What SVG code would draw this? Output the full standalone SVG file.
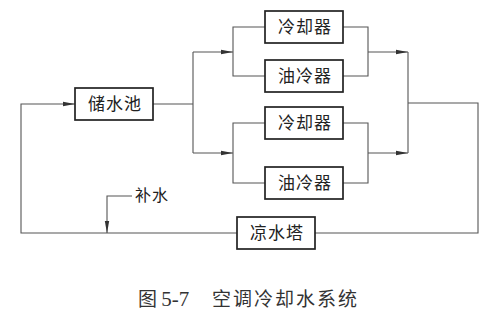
<svg xmlns="http://www.w3.org/2000/svg" width="500" height="320" viewBox="0 0 500 320">
<style>
.box{fill:#fff;stroke:#222;stroke-width:1.7}
.lbl{font-family:"Noto Sans CJK SC","Noto Sans",sans-serif;font-size:17px;fill:#222;text-anchor:middle;letter-spacing:1px}
.ln{fill:none;stroke:#555;stroke-width:1.1}
.cap{font-family:"Noto Sans CJK SC","Noto Sans",sans-serif;font-size:19px;fill:#333}
</style>
<defs>
<marker id="ah" viewBox="0 0 12 6" refX="12" refY="3" markerWidth="12" markerHeight="6" markerUnits="userSpaceOnUse" orient="auto">
<path d="M0,0.8 L12,3 L0,5.2 Z" fill="#333"/>
</marker>
</defs>
<rect width="500" height="320" fill="#fff"/>
<g id="connectors">
<path class="ln" d="M237,233 H21 V104 H75" marker-end="url(#ah)"/>
<path class="ln" d="M153,104 H193 M193,52 V153"/>
<path class="ln" d="M193,52 H233" marker-end="url(#ah)"/>
<path class="ln" d="M193,153 H233" marker-end="url(#ah)"/>
<path class="ln" d="M265,27 H233 V76 H265"/>
<path class="ln" d="M343,27 H368 V76 H343"/>
<path class="ln" d="M368,52 H408" marker-end="url(#ah)"/>
<path class="ln" d="M265,123 H233 V183 H265"/>
<path class="ln" d="M343,123 H368 V183 H343"/>
<path class="ln" d="M368,153 H408" marker-end="url(#ah)"/>
<path class="ln" d="M408,52 V153 M408,103 H478 V233 H315"/>
<path class="ln" d="M132,196 H107 V233" marker-end="url(#ah)"/>
</g>
<g id="pool"><rect class="box" x="75" y="88" width="78" height="32"/><text class="lbl" x="115" y="110">储水池</text></g>
<g id="cooler1"><rect class="box" x="265" y="11" width="78" height="32"/><text class="lbl" x="305" y="33">冷却器</text></g>
<g id="oilcooler1"><rect class="box" x="265" y="60" width="78" height="32"/><text class="lbl" x="305" y="82">油冷器</text></g>
<g id="cooler2"><rect class="box" x="265" y="107" width="78" height="32"/><text class="lbl" x="305" y="129">冷却器</text></g>
<g id="oilcooler2"><rect class="box" x="265" y="167" width="78" height="32"/><text class="lbl" x="305" y="189">油冷器</text></g>
<g id="tower"><rect class="box" x="237" y="217" width="78" height="32"/><text class="lbl" x="277" y="239">凉水塔</text></g>
<g id="makeup"><text class="lbl" x="135" y="201" style="text-anchor:start;font-size:16px">补水</text></g>
<text class="cap" x="138" y="306">图 <tspan font-family="Liberation Serif,serif" font-size="21">5-7</tspan></text>
<text class="cap" x="212" y="306" letter-spacing="2">空调冷却水系统</text>
</svg>
